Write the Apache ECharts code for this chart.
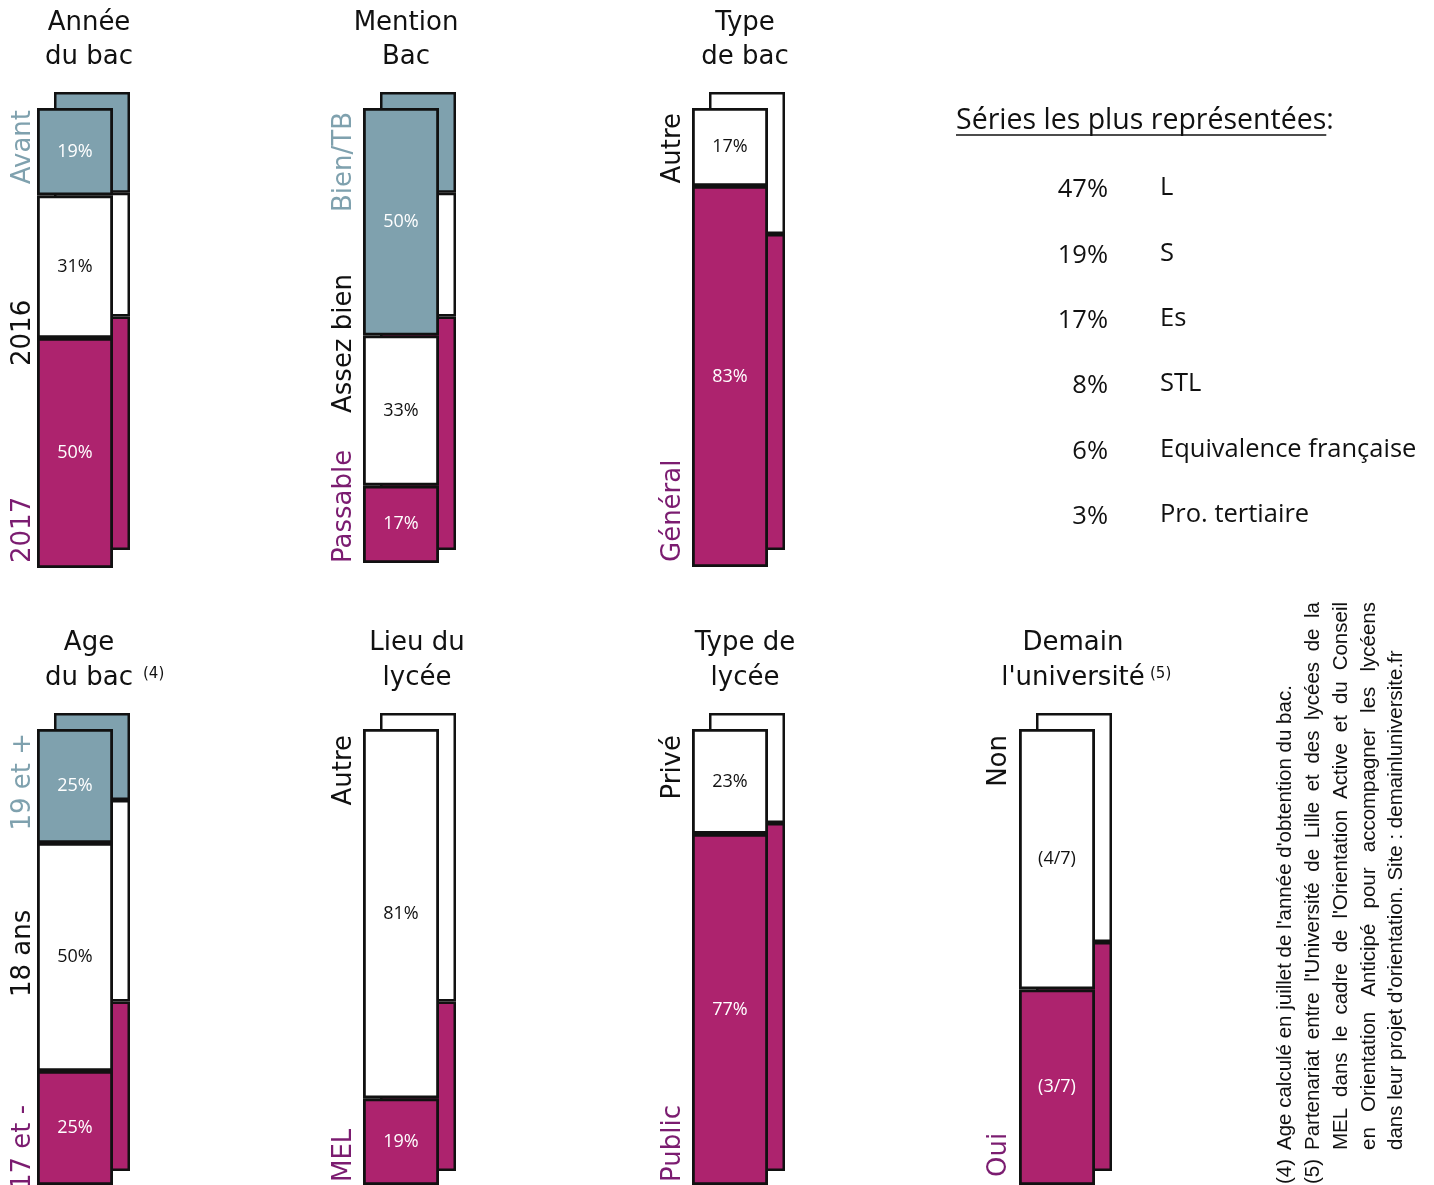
<!DOCTYPE html>
<html><head><meta charset="utf-8">
<script src="https://cdn.jsdelivr.net/npm/echarts@6/dist/echarts.min.js"></script>
<style>html,body{margin:0;padding:0;background:#fff}#c{width:1434px;height:1185px}</style>
</head><body><div id="c"></div>
<script>
// ---------- DATA ----------
const chartTitles = [['Année','du bac'],['Mention','Bac'],['Type','de bac'],['Age','du bac'],['Lieu du','lycée'],['Type de','lycée'],['Demain',"l'université"]];
const titleNotes = ['', '', '', '(4)', '', '', '(5)'];
const segmentNames = [['2017','2016','Avant'],['Passable','Assez bien','Bien/TB'],['Général','Autre'],['17 et -','18 ans','19 et +'],['MEL','Autre'],['Public','Privé'],['Oui','Non']];
const frontValues = [[50,31,19],[17,33,50],[83,17],[25,50,25],[19,81],[77,23],[42.9,57.1]];
const frontLabels = [['50%','31%','19%'],['17%','33%','50%'],['83%','17%'],['25%','50%','25%'],['19%','81%'],['77%','23%'],['(3/7)','(4/7)']];
const backValues = [[51,27,22],[51,27,22],[69,31],[37,44,19],[37,63],[76,24],[50,50]];
const seriesTitle = 'Séries les plus représentées';
const seriesShare = [47,19,17,8,6,3];
const seriesLabels = ['L','S','Es','STL','Equivalence française','Pro. tertiaire'];
const footnoteMarks = ['(4)','(5)'];
const footnoteLines = [
  "Age calculé en juillet de l'année d'obtention du bac.",
  "Partenariat entre l'Université de Lille et des lycées de la",
  "MEL dans le cadre de l'Orientation Active et du Conseil",
  "en Orientation Anticipé pour accompagner les lycéens",
  "dans leur projet d'orientation. Site : demainluniversite.fr"
];
const footnoteJustified = [false, true, true, true, false];

// ---------- LAYOUT / STYLE ----------
const frontX = [37,363,692,37,363,692,1019];
const rowOf = [0,0,0,1,1,1,1];
const rowTop = [108,729];
const barW = 76;
const frontH = [460,455,459,460,460,460,460];
const backDx = 17, backDy = -16, backH = 458;
const titleX = [89,406,745,89,417,745,1073];
const titleY = [[23,57],[643,678]];
const noteX = [0,0,0,143,0,0,1150];
const nameX = [23,344,673,23,344,673,999];
const nameAnchors = [
  [[563,'left'],[366,'left'],[110,'right']],
  [[563,'left'],[413,'left'],[112,'right']],
  [[562,'left'],[113,'right']],
  [[1190,'left'],[997,'left'],[733,'right']],
  [[1182,'left'],[735,'right']],
  [[1182,'left'],[735,'right']],
  [[1177,'left'],[735,'right']]
];
const MAG = '#ad236e', TEAL = '#7fa1ae', PURP = '#7b1c70', INK = '#111111';
const segFill = n => n === 3 ? [MAG,'#ffffff',TEAL] : [MAG,'#ffffff'];
const segText = n => n === 3 ? ['#ffffff',INK,'#ffffff'] : ['#ffffff',INK];
const nameColor = n => n === 3 ? [PURP,INK,TEAL] : [PURP,INK];

const TITLE_FONT = 'DejaVu Sans';
const BODY_FONT = 'Open Sans';
const FN_FONT = 'Liberation Sans';
const FN_SIZE = 20.5;
const LIST_TITLE_SIZE = 28.5;
const LIST_SIZE = 25.5;

const mctx = document.createElement('canvas').getContext('2d');
function textW(s, size, fam) { mctx.font = size + 'px "' + fam + '"'; return mctx.measureText(s).width; }

const grid = [], xAxis = [], yAxis = [], series = [], graphic = [];
chartTitles.forEach((t, i) => {
  const top = rowTop[rowOf[i]];
  const gb = grid.length;
  grid.push({left: frontX[i] + backDx, top: top + backDy, width: barW, height: backH});
  const gf = grid.length;
  grid.push({left: frontX[i], top: top, width: barW, height: frontH[i]});
  [gb, gf].forEach(g => {
    xAxis.push({gridIndex: g, type: 'category', data: ['x'], show: false});
    yAxis.push({gridIndex: g, type: 'value', min: 0, max: 100, show: false});
  });
  const n = frontValues[i].length;
  const fills = segFill(n), tcol = segText(n);
  backValues[i].forEach((v, k) => {
    series.push({type: 'bar', xAxisIndex: gb, yAxisIndex: gb, stack: 'b' + i, barWidth: '100%',
      z: 2, silent: true, data: [v],
      itemStyle: {color: fills[k], borderColor: INK, borderWidth: 2.5}});
  });
  frontValues[i].forEach((v, k) => {
    series.push({type: 'bar', xAxisIndex: gf, yAxisIndex: gf, stack: 'f' + i, barWidth: '100%',
      z: 4, silent: true, data: [v],
      itemStyle: {color: fills[k], borderColor: INK, borderWidth: 2.8},
      label: {show: true, position: 'inside', formatter: frontLabels[i][k], color: tcol[k],
        fontFamily: BODY_FONT, fontSize: 18}});
  });
  const ty = titleY[rowOf[i]];
  t.forEach((line, j) => {
    graphic.push({type: 'text', x: titleX[i], y: ty[j], style: {text: line, align: 'center', verticalAlign: 'middle',
      fontFamily: TITLE_FONT, fontSize: 26, fill: INK}});
  });
  if (titleNotes[i]) {
    graphic.push({type: 'text', x: noteX[i], y: ty[1] - 4, style: {text: titleNotes[i], align: 'left', verticalAlign: 'middle',
      fontFamily: TITLE_FONT, fontSize: 15, fill: INK}});
  }
  const nc = nameColor(n);
  segmentNames[i].forEach((nm, k) => {
    const a = nameAnchors[i][k];
    graphic.push({type: 'text', x: nameX[i], y: a[0], rotation: Math.PI / 2,
      style: {text: nm, align: a[1], verticalAlign: 'middle', fontFamily: TITLE_FONT, fontSize: 26, fill: nc[k]}});
  });
});

// Series list (top right)
graphic.push({type: 'text', x: 956, y: 121, style: {text: seriesTitle + ':', align: 'left', verticalAlign: 'middle',
  fontFamily: BODY_FONT, fontSize: LIST_TITLE_SIZE, fill: INK}});
const ulW = textW(seriesTitle, LIST_TITLE_SIZE, BODY_FONT);
graphic.push({type: 'line', shape: {x1: 956, y1: 135, x2: 956 + ulW, y2: 135}, style: {stroke: INK, lineWidth: 1.5}});
seriesShare.forEach((p, k) => {
  const y = 190 + k * 65.4;
  graphic.push({type: 'text', x: 1108, y: y, style: {text: p + '%', align: 'right', verticalAlign: 'middle',
    fontFamily: BODY_FONT, fontSize: LIST_SIZE, fill: INK}});
  graphic.push({type: 'text', x: 1160, y: y - 2, style: {text: seriesLabels[k], align: 'left', verticalAlign: 'middle',
    fontFamily: BODY_FONT, fontSize: LIST_SIZE, fill: INK}});
});

// Footnotes (rotated, lines 2-4 justified)
const fnX = [1285, 1313, 1341, 1369, 1396];
const fnStart = 1150, fnLen = 548;
footnoteMarks.forEach((m, k) => {
  graphic.push({type: 'text', x: fnX[k], y: 1184, rotation: Math.PI / 2,
    style: {text: m, align: 'left', verticalAlign: 'middle', fontFamily: FN_FONT, fontSize: FN_SIZE, fill: INK}});
});
footnoteLines.forEach((ln, k) => {
  if (!footnoteJustified[k]) {
    graphic.push({type: 'text', x: fnX[k], y: fnStart, rotation: Math.PI / 2,
      style: {text: ln, align: 'left', verticalAlign: 'middle', fontFamily: FN_FONT, fontSize: FN_SIZE, fill: INK}});
    return;
  }
  const words = ln.split(' ');
  const ws = words.map(w => textW(w, FN_SIZE, FN_FONT));
  const total = ws.reduce((a, b) => a + b, 0);
  const gap = (fnLen - total) / (words.length - 1);
  let off = 0;
  words.forEach((w, j) => {
    graphic.push({type: 'text', x: fnX[k], y: fnStart - off, rotation: Math.PI / 2,
      style: {text: w, align: 'left', verticalAlign: 'middle', fontFamily: FN_FONT, fontSize: FN_SIZE, fill: INK}});
    off += ws[j] + gap;
  });
});

const chart = echarts.init(document.getElementById('c'), null, {renderer: 'canvas'});
chart.setOption({animation: false, backgroundColor: '#ffffff', grid, xAxis, yAxis, series, graphic});
</script>
</body></html>
